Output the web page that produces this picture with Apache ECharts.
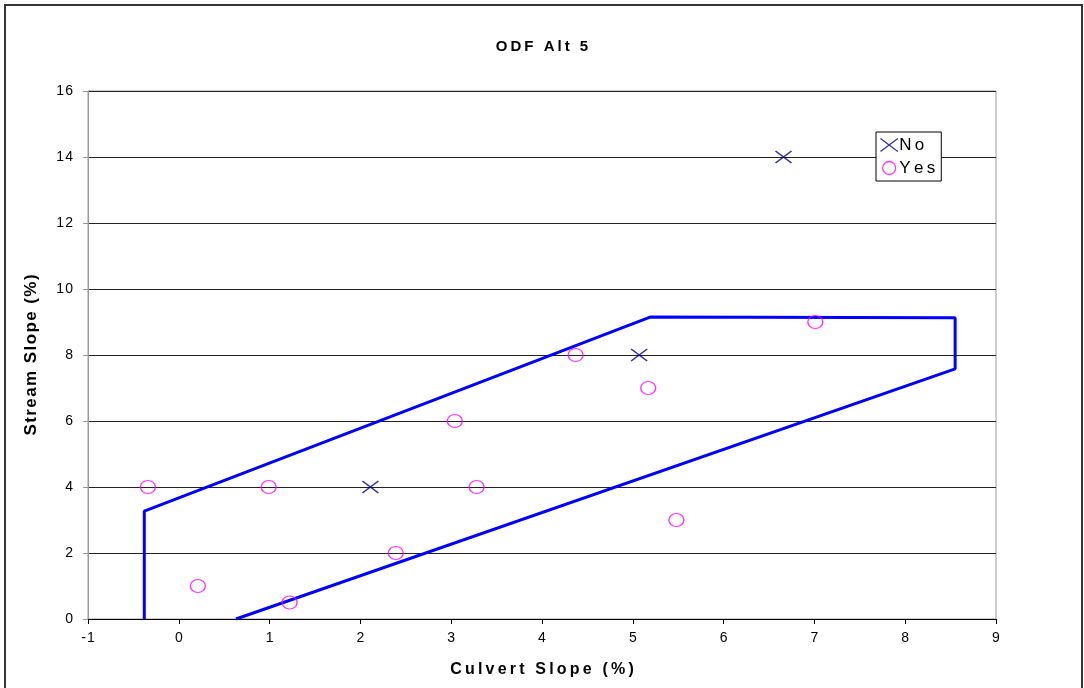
<!DOCTYPE html>
<html><head><meta charset="utf-8">
<script src="https://cdn.jsdelivr.net/npm/echarts@6/dist/echarts.min.js"></script>
<style>html,body{margin:0;padding:0;background:#fff}#c{width:1084px;height:688px}</style>
</head><body><div id="c"></div>
<script>
const title = 'ODF Alt 5';
const xName = 'Culvert Slope (%)';
const yName = 'Stream Slope (%)';
const noPoints = [[6.66, 14], [5.07, 8], [2.11, 4]];
const yesPoints = [[-0.34, 4], [0.21, 1], [0.99, 4], [1.22, 0.5], [2.39, 2], [3.04, 6], [3.28, 4], [4.37, 8], [5.17, 7], [5.48, 3], [7.01, 9]];
const envelope = [[-0.38, 0], [-0.38, 3.27], [5.19, 9.15], [8.55, 9.13], [8.55, 7.58], [0.63, 0]];
const crossPath = 'path://M0,0L16,12M16,0L0,12';
const font = 'Arial, "Liberation Sans", sans-serif';
const spaced = (s, sp) => String(s).split('').join(sp);

const chart = echarts.init(document.getElementById('c'), null, {renderer: 'canvas'});
chart.setOption({
  animation: false,
  backgroundColor: '#fff',
  graphic: [{type: 'rect', shape: {x: 5, y: 5, width: 1077, height: 690}, style: {fill: 'none', stroke: '#333', lineWidth: 2}, z: 0}],
  title: {text: spaced(title, '\u2009'), left: 'center', top: 34,
    textStyle: {fontFamily: font, fontSize: 15, fontWeight: 'bold', color: '#000'}},
  grid: {left: 88, right: 88, top: 91, bottom: 69, show: true, borderColor: '#999', borderWidth: 1},
  legend: {
    left: 876, top: 132, orient: 'vertical', itemGap: 5, itemWidth: 18, itemHeight: 13,
    padding: [4, 6, 4, 2],
    backgroundColor: '#fff', borderColor: '#000', borderWidth: 1, borderRadius: 0,
    textStyle: {fontFamily: font, fontSize: 17, color: '#000', padding: [0, 0, 0, -4]},
    formatter: n => spaced(n, '\u2009'),
    data: [
      {name: 'No', icon: crossPath, itemStyle: {color: 'none', borderColor: '#000080', borderWidth: 1.3}},
      {name: 'Yes', icon: 'circle', itemStyle: {color: 'none', borderColor: '#ff00ff', borderWidth: 1.3}}
    ]
  },
  xAxis: {
    type: 'value', min: -1, max: 9, interval: 1,
    name: spaced(xName, '\u2009'), nameLocation: 'middle', nameGap: 43,
    nameTextStyle: {fontFamily: font, fontSize: 16, fontWeight: 'bold', color: '#000'},
    axisLine: {lineStyle: {color: '#000', width: 1}},
    axisTick: {show: true, length: 5, lineStyle: {color: '#000'}},
    axisLabel: {fontFamily: font, fontSize: 14, color: '#000', margin: 12, formatter: v => spaced(v, '\u200A')},
    splitLine: {show: false}
  },
  yAxis: {
    type: 'value', min: 0, max: 16, interval: 2,
    name: spaced(yName, '\u200A'), nameLocation: 'middle', nameGap: 48, nameRotate: 90,
    nameTextStyle: {fontFamily: font, fontSize: 17, fontWeight: 'bold', color: '#000'},
    axisLine: {show: true, onZero: false, lineStyle: {color: '#999', width: 1}},
    axisTick: {show: true, length: 5, lineStyle: {color: '#999'}},
    axisLabel: {fontFamily: font, fontSize: 14, color: '#000', margin: 15, formatter: v => spaced(v, '\u200A')},
    splitLine: {show: true, lineStyle: {color: '#222', width: 1}}
  },
  series: [
    {name: 'Envelope', type: 'line', data: envelope, symbol: 'none', z: 3,
      lineStyle: {color: '#0000ff', width: 3}, silent: true},
    {name: 'No', type: 'scatter', data: noPoints, symbol: crossPath, symbolSize: [16, 12], z: 4,
      itemStyle: {color: 'none', borderColor: '#000080', borderWidth: 1.3}},
    {name: 'Yes', type: 'scatter', data: yesPoints, symbol: 'circle', symbolSize: [15, 13], z: 4,
      itemStyle: {color: 'none', borderColor: '#ff00ff', borderWidth: 1.3}}
  ]
});
</script></body></html>
